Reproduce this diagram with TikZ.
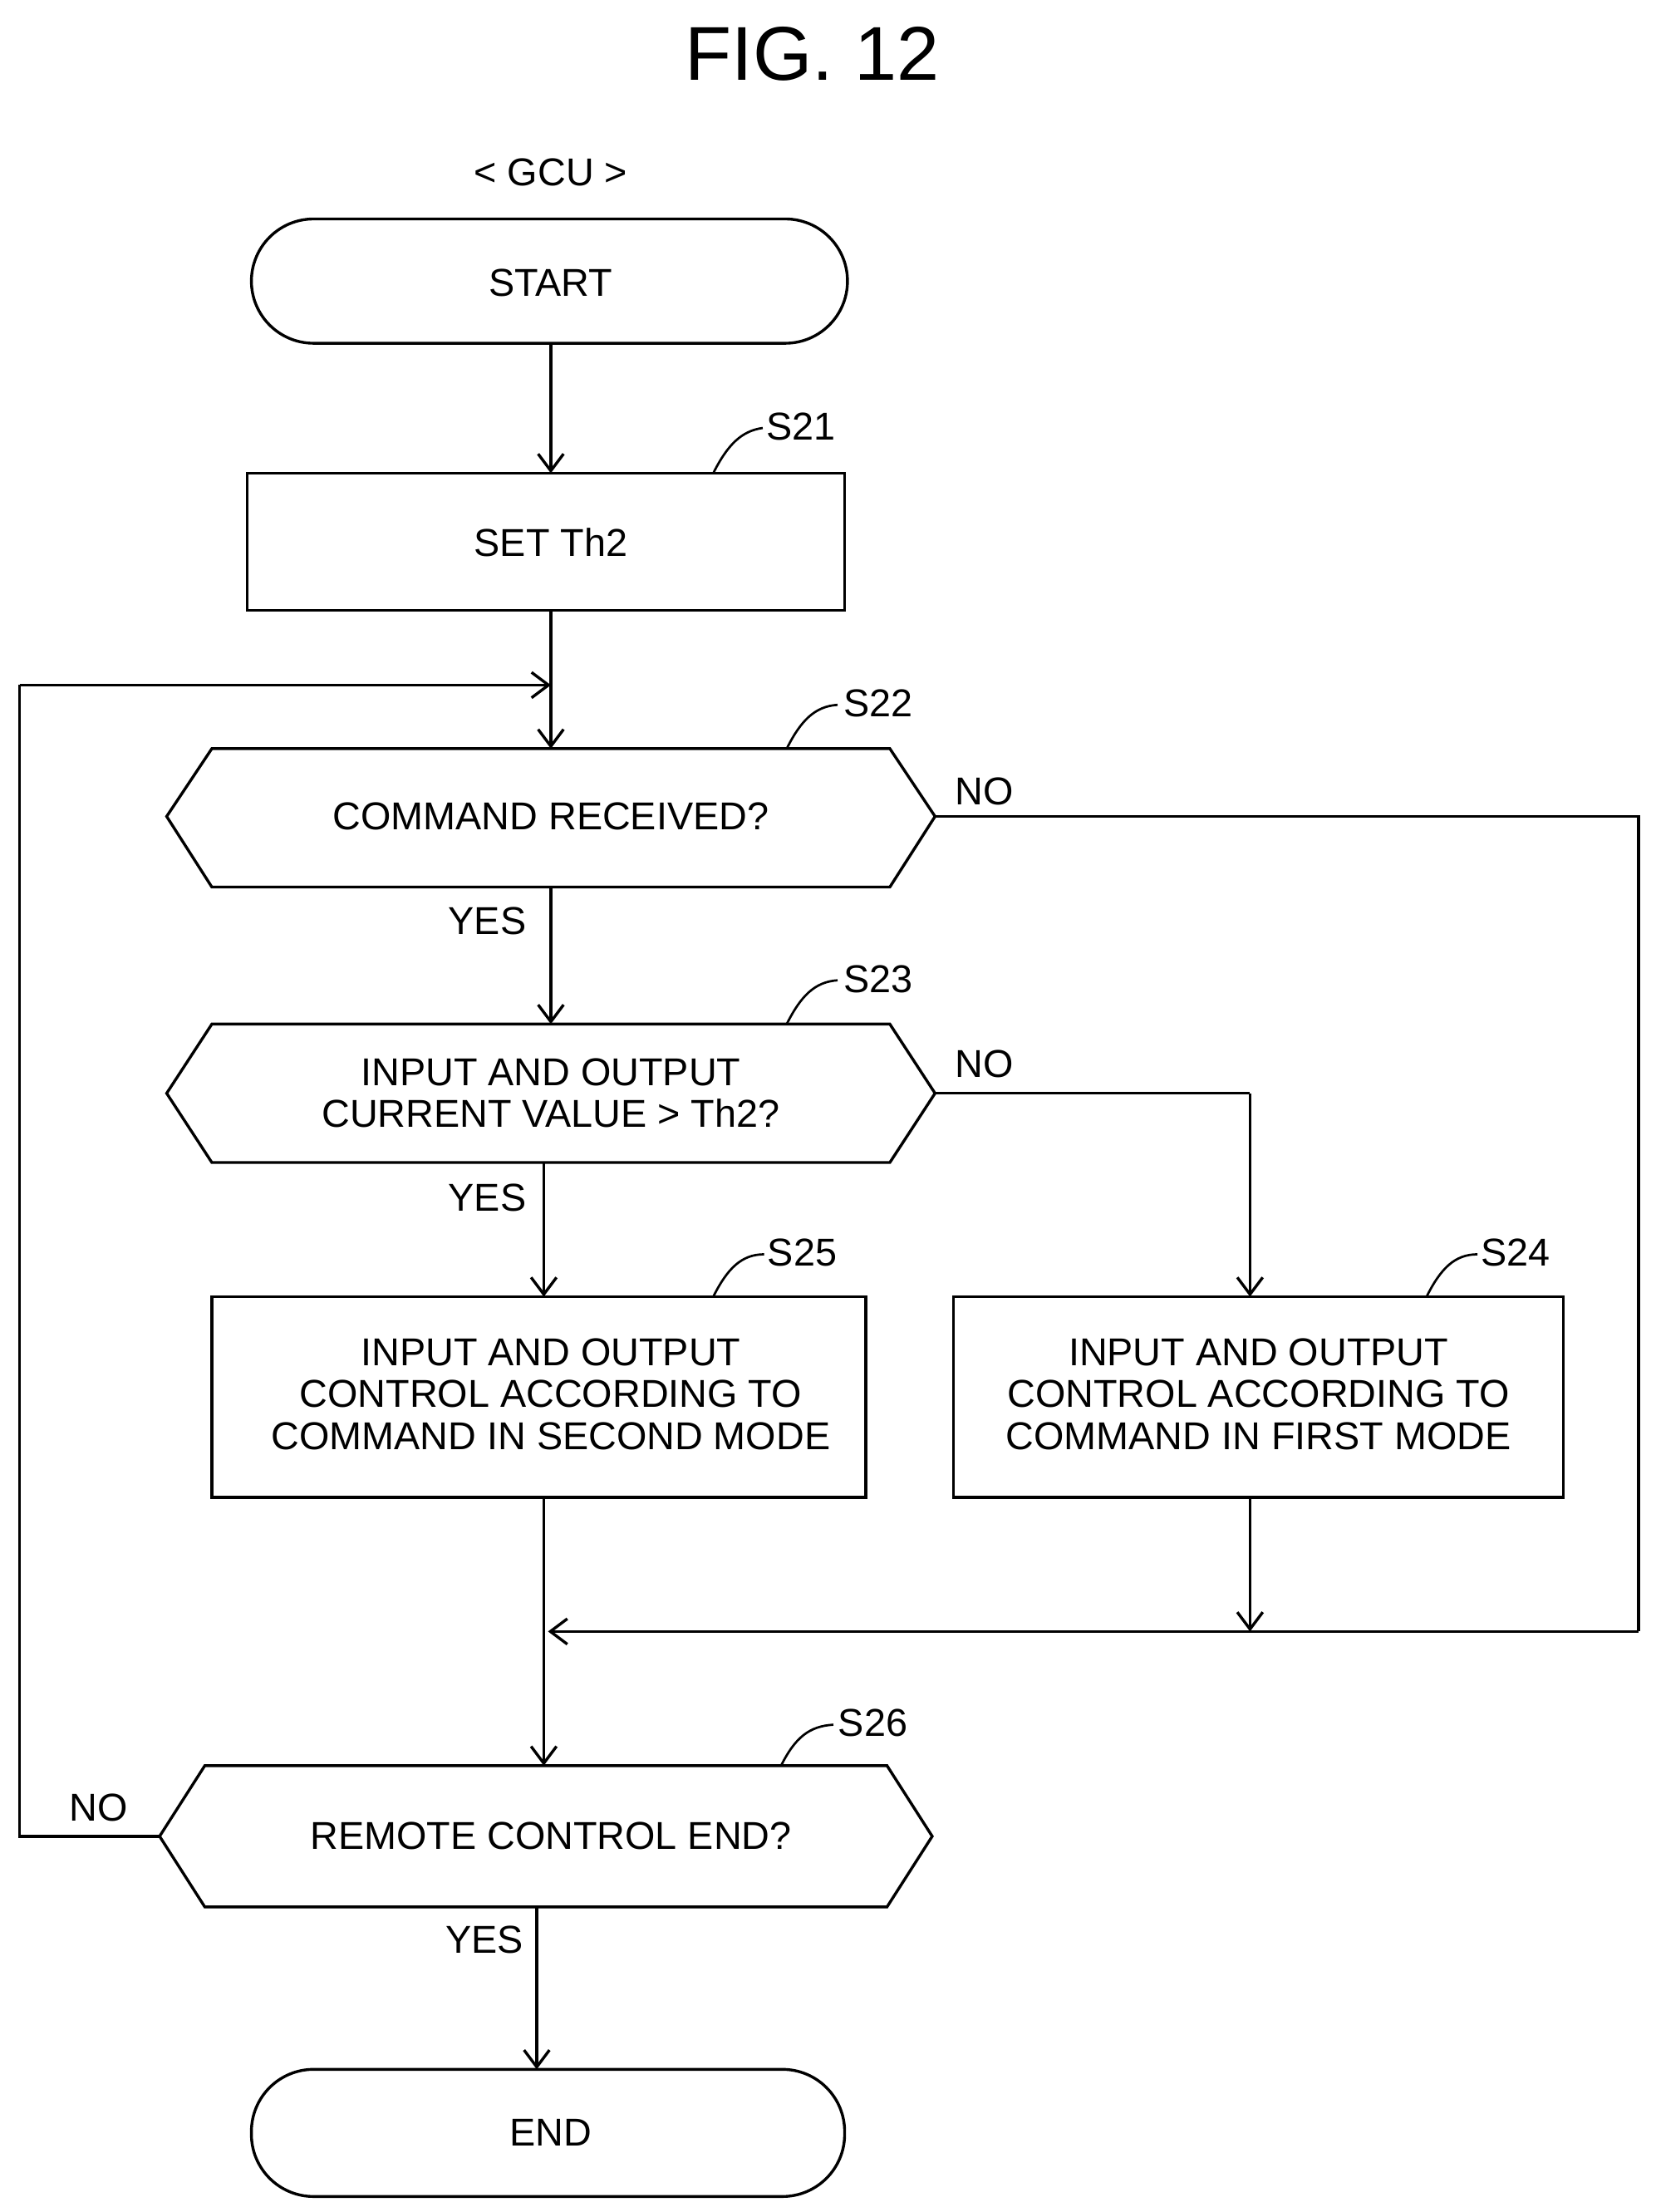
\documentclass[tikz,border=0pt]{standalone}
\usepackage{fontspec}
\setmainfont{Liberation Sans}
\usetikzlibrary{arrows.meta}
\begin{document}
\begin{tikzpicture}[x=1pt,y=-1pt,line width=2pt,
  txt/.style={font=\fontsize{27.5}{29.5}\selectfont,align=center,inner sep=0},
  arr/.style={-{Straight Barb[length=12pt,width=18pt,line width=2pt]}},
  lead/.style={line width=1.6pt}]
\useasboundingbox (0,0) rectangle (1172,1566);
\node[txt,font=\fontsize{54}{58}\selectfont] (title) at (575,38) {FIG. 12};
\node[txt] (gcu) at (390,122) {< GCU >};
% start
\draw[rounded corners=44pt] (178,155) rectangle (600,243);
\node[txt] (start) at (390,200) {START};
\coordinate (startb) at (390,243);
% S21
\draw (175,335) rectangle (598,432);
\node[txt] (s21) at (390,384) {SET Th2};
\coordinate (s21t) at (390,335); \coordinate (s21b) at (390,432);
\node[txt] (l21) at (567,302) {S21};
\draw[lead] (505,335) .. controls (515,315) and (525,305) .. (540,303);
% S22
\draw (118,578) -- (150,530) -- (630,530) -- (662,578) -- (630,628) -- (150,628) -- cycle;
\node[txt] (s22) at (390,578) {COMMAND RECEIVED?};
\node[txt] (l22) at (622,498) {S22};
\draw[lead] (557,530) .. controls (567,510) and (577,500) .. (593,499);
% S23
\draw (118,774) -- (150,725) -- (630,725) -- (662,774) -- (630,823) -- (150,823) -- cycle;
\node[txt] (s23) at (390,774) {INPUT AND OUTPUT\\CURRENT VALUE > Th2?};
\node[txt] (l23) at (622,693) {S23};
\draw[lead] (557,725) .. controls (567,705) and (577,695) .. (593,694);
% S25
\draw (150,918) rectangle (613,1060);
\node[txt] (s25) at (390,987) {INPUT AND OUTPUT\\CONTROL ACCORDING TO\\COMMAND IN SECOND MODE};
\node[txt] (l25) at (568,887) {S25};
\draw[lead] (505,918) .. controls (515,898) and (525,888) .. (541,888);
% S24
\draw (675,918) rectangle (1107,1060);
\node[txt] (s24) at (891,987) {INPUT AND OUTPUT\\CONTROL ACCORDING TO\\COMMAND IN FIRST MODE};
\node[txt] (l24) at (1073,887) {S24};
\draw[lead] (1010,918) .. controls (1020,898) and (1030,888) .. (1046,888);
% S26
\draw (113,1300) -- (145,1250) -- (628,1250) -- (660,1300) -- (628,1350) -- (145,1350) -- cycle;
\node[txt] (s26) at (390,1300) {REMOTE CONTROL END?};
\node[txt] (l26) at (618,1220) {S26};
\draw[lead] (553,1250) .. controls (563,1230) and (573,1222) .. (590,1221);
% END
\draw[rounded corners=44pt] (178,1465) rectangle (598,1555);
\node[txt] (end) at (390,1510) {END};
% labels
\node[txt] (no1) at (697,560) {NO};
\node[txt] (yes1) at (345,652) {YES};
\node[txt] (no2) at (697,753) {NO};
\node[txt] (yes2) at (345,848) {YES};
\node[txt] (no3) at (70,1280) {NO};
\node[txt] (yes3) at (343,1373) {YES};
% coordinates
\coordinate (j1) at (390,485);
\coordinate (m) at (388,1155);
% connectors
\draw[arr] (startb) -- (s21t);
\draw[arr] (s21b) -- (390,530);
\draw[arr] (390,628) -- (390,725);
\draw[arr] (385,823) -- (385,918);
\draw (662,578) -- (1160,578) -- (1160,1155);
\draw[arr] (1160,1155) -- (m);
\draw (662,774) -- (885,774);
\draw[arr] (885,774) -- (885,918);
\draw[arr] (885,1060) -- (885,1155);
\draw[arr] (385,1060) -- (385,1250);
\draw (113,1300) -- (14,1300) -- (14,485);
\draw[arr] (14,485) -- (j1);
\draw[arr] (380,1350) -- (380,1465);
\end{tikzpicture}
\end{document}
